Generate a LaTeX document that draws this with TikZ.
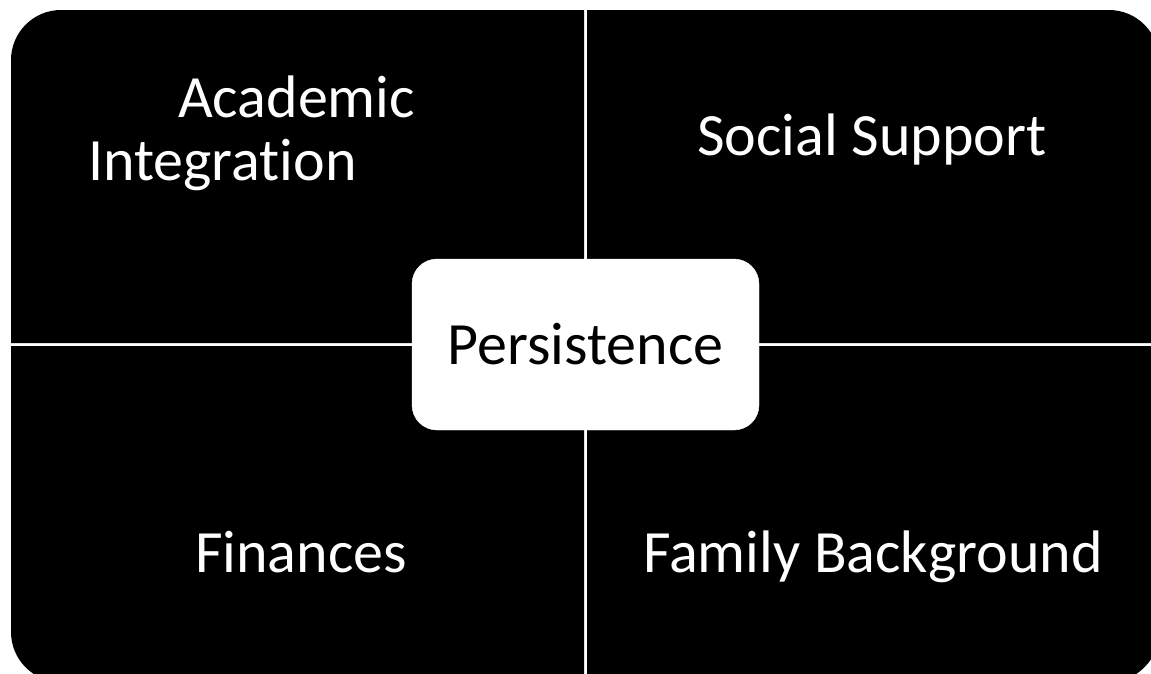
\documentclass[tikz,border=0pt]{standalone}
\usepackage{fontspec}
\setmainfont[RawFeature={-liga;-clig;-dlig}]{Carlito}
\begin{document}
\begin{tikzpicture}[x=1pt,y=-1pt,
    quad/.style={fill=black},
    lbl/.style={text=white,anchor=base west,inner sep=0pt,font=\fontsize{60}{72}\selectfont},
    centre/.style={fill=white,draw=white,rounded corners=25pt,minimum width=347pt,minimum height=171pt,inner sep=0pt,font=\fontsize{60}{72}\selectfont}]
    \useasboundingbox (0,0) rectangle (1151,673);

    % the four quadrants, each with one rounded outer corner
    \fill[quad] (584,343) -- (11,343) [rounded corners=50pt] -- (11,10) [sharp corners] -- (584,10) -- cycle;
    \fill[quad] (587,343) -- (587,10) [rounded corners=50pt] -- (1159,10) [sharp corners] -- (1159,343) -- cycle;
    \fill[quad] (584,346) -- (11,346) [rounded corners=50pt] -- (11,682) [sharp corners] -- (584,682) -- cycle;
    \fill[quad] (587,346) -- (587,682) [rounded corners=50pt] -- (1159,682) [sharp corners] -- (1159,346) -- cycle;

    \node[lbl] (acad) at (178,117) {Academic};
    \node[lbl] (integ) at (88,180) {Integration};
    \node[lbl] (social) at (697,155) {Social Support};
    \node[lbl] (fin) at (195,572) {Finances};
    \node[lbl] (family) at (643,572) {Family Background};

    \node[centre] (persist) at (585.5,344.5) {Persistence};
\end{tikzpicture}
\end{document}
